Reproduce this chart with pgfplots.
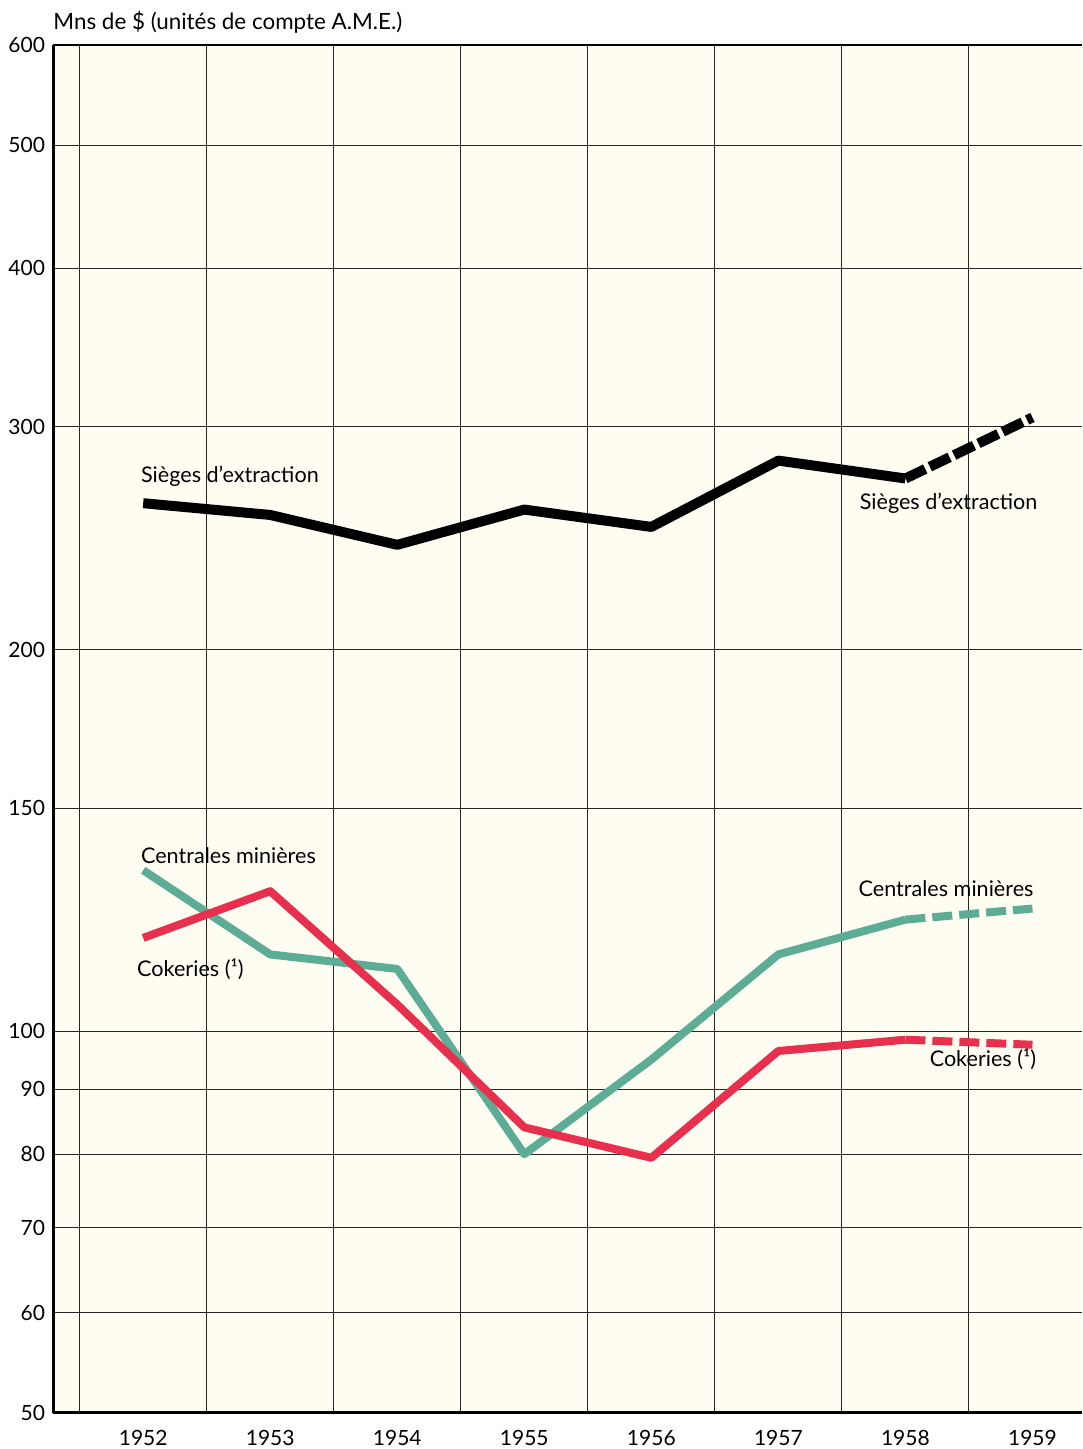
\documentclass[border=0pt]{standalone}
\usepackage{fontspec}
\setmainfont{Lato}
\usepackage{pgfplots}
\pgfplotsset{compat=1.18}
\definecolor{teal1}{RGB}{92,172,150}
\definecolor{red1}{RGB}{232,48,78}
\definecolor{cream}{RGB}{255,253,242}
\begin{document}
\begin{tikzpicture}
\begin{axis}[
  name=ax,
  scale only axis,
  width=514.5pt, height=684pt,
  ymode=log,
  xmin=1951.29, xmax=1959.39,
  ymin=50, ymax=600,
  axis background/.style={fill=cream},
  axis x line*=bottom, axis y line*=left,
  axis line style={line width=1.5pt,-},
  xtick={1952,1953,1954,1955,1956,1957,1958,1959},
  xticklabels={1952,1953,1954,1955,1956,1957,1958,1959},
  minor xtick={1951.5,1952.5,1953.5,1954.5,1955.5,1956.5,1957.5,1958.5},
  xminorgrids=true,
  ytick={50,60,70,80,90,100,150,200,300,400,500,600},
  yticklabels={50,60,70,80,90,100,150,200,300,400,500,600},
  log ticks with fixed point,
  ymajorgrids=true,
  minor ytick={},
  major tick length=0pt, minor tick length=0pt,
  grid style={line width=0.5pt, black!85},
  minor grid style={line width=0.5pt, black!85},
  tick label style={font=\fontsize{10.5}{12}\selectfont},
  /pgf/number format/assume math mode=true,
  xticklabel style={yshift=-5pt},
  yticklabel style={xshift=-0.5pt},
  clip=false,
]
\draw[line width=0.6pt] (rel axis cs:0,1) -- (rel axis cs:1,1);
% Sieges d'extraction
\addplot[black, line width=5pt, line join=round] coordinates {
(1952,261) (1953,255.5) (1954,242) (1955,258) (1956,250) (1957,282) (1958,273)};
\addplot[black, line width=5pt, dash pattern=on 11pt off 2.5pt] coordinates {
(1958,273) (1959,305)};
% Centrales minieres
\addplot[teal1, line width=4pt, line join=round] coordinates {
(1952,134) (1953,115) (1954,112) (1955,80) (1956,95) (1957,115) (1958,122.5)};
\addplot[teal1, line width=4pt, dash pattern=on 10pt off 3.5pt] coordinates {
(1958,122.5) (1959,125)};
% Cokeries
\addplot[red1, line width=4pt, line join=round] coordinates {
(1952,118.5) (1953,129) (1954,105) (1955,84) (1956,79.5) (1957,96.5) (1958,98.5)};
\addplot[red1, line width=4pt, dash pattern=on 10pt off 3.5pt] coordinates {
(1958,98.5) (1959,97.6)};
\begin{scope}[every node/.style={font=\fontsize{10.8}{12}\selectfont, inner sep=0pt}]
\node[anchor=west] at (axis cs:1951.98,274) {Sièges d’extraction};
\node at (axis cs:1958.34,261) {Sièges d’extraction};
\node[anchor=west] at (axis cs:1951.98,137.5) {Centrales minières};
\node[anchor=west] at (axis cs:1951.95,112) {Cokeries (¹)};
\node at (axis cs:1958.32,129.5) {Centrales minières};
\node at (axis cs:1958.61,95) {Cokeries (¹)};
\end{scope}
\node[anchor=base west, inner sep=0pt, font=\fontsize{11.2}{13}\selectfont] at ([yshift=7.5pt]rel axis cs:0,1) {Mns de \$ (unités de compte A.M.E.)};
\end{axis}
\pgfresetboundingbox
\useasboundingbox ([shift={(-26.5pt,-18pt)}]ax.south west) rectangle ([shift={(0pt,22.5pt)}]ax.north east);
\end{tikzpicture}
\end{document}
